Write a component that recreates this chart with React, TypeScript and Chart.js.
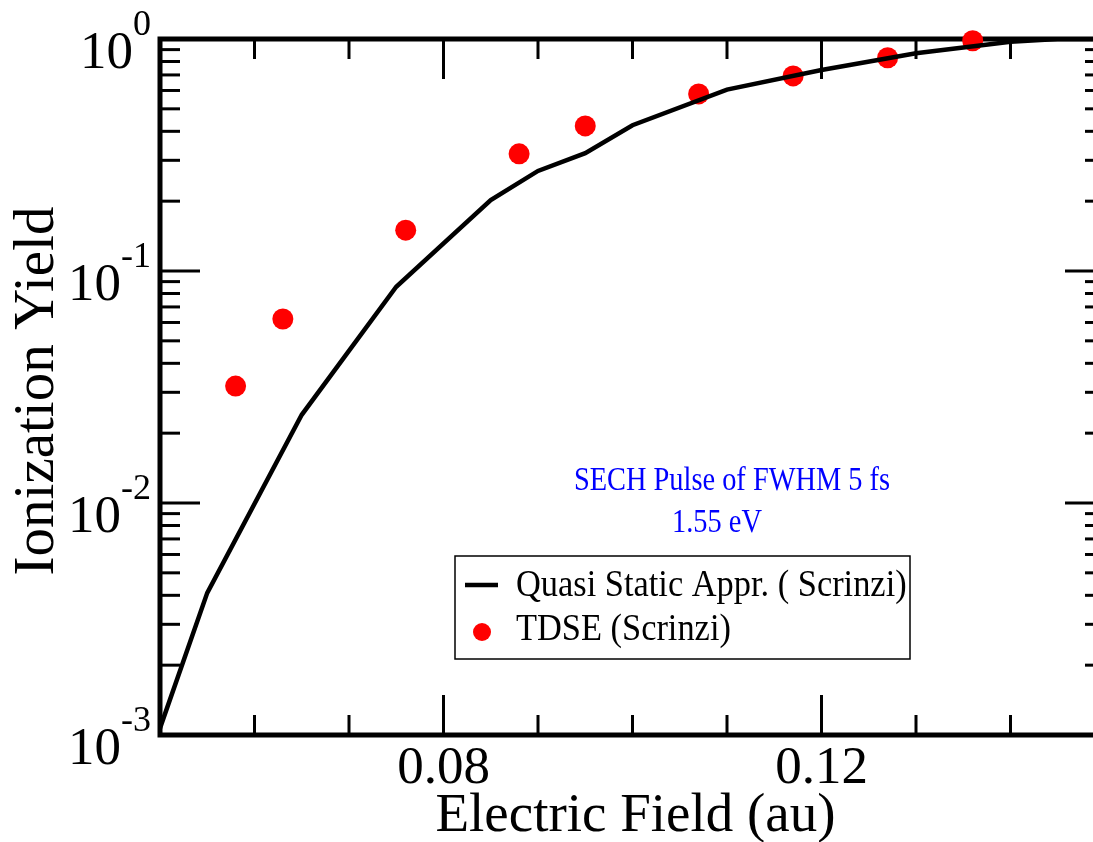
import React, { useEffect, useRef } from "react";
import { Chart, registerables } from "chart.js";

Chart.register(...registerables);

// Quasi static approximation (line)
const quasiX = [0.05, 0.055, 0.065, 0.075, 0.085, 0.09, 0.095, 0.1, 0.11, 0.12, 0.13, 0.14, 0.145, 0.15];
const quasiY = [0.00107, 0.0041, 0.024, 0.0855, 0.202, 0.27, 0.322, 0.425, 0.605, 0.735, 0.868, 0.974, 1.0, 1.0];

// TDSE (points)
const tdseX = [0.058, 0.063, 0.076, 0.088, 0.095, 0.107, 0.117, 0.127, 0.136];
const tdseY = [0.0319, 0.0621, 0.15, 0.32, 0.422, 0.58, 0.693, 0.83, 0.983];

// Axes
const xMin = 0.05;
const xMax = 0.15;
const yMin = 0.001;
const yMax = 1;
const xMajorTicks = [0.08, 0.12];
const xTickLabels = ["0.08", "0.12"];
const xMinorTicks = [0.06, 0.07, 0.09, 0.1, 0.11, 0.13, 0.14];
const yMajorTicks = [0.001, 0.01, 0.1, 1];
const yTickExponents = ["-3", "-2", "-1", "0"];
const yMinorMultipliers = [2, 3, 4, 5, 6, 7, 8, 9];

const xTitle = "Electric Field (au)";
const yTitle = "Ionization Yield";
const legendLabels = ["Quasi Static Appr. ( Scrinzi)", "TDSE (Scrinzi)"];
const noteLines = ["SECH Pulse of FWHM 5 fs", "1.55 eV"];

const SERIF = '"Liberation Serif", "Times New Roman", serif';

function drawScaledText(ctx: CanvasRenderingContext2D, text: string, x: number, y: number, align: "left" | "center", sx: number) {
  ctx.save();
  ctx.translate(x, y);
  ctx.scale(sx, 1);
  ctx.textAlign = align;
  ctx.textBaseline = "alphabetic";
  ctx.fillText(text, 0, 0);
  ctx.restore();
}

const framePlugin = {
  id: "frameTicks",
  beforeDatasetsDraw(chart: any) {
    const { ctx, chartArea: a, scales } = chart;
    const xs = scales.x;
    const ys = scales.y;
    ctx.save();
    ctx.strokeStyle = "#000";
    ctx.lineCap = "butt";
    ctx.lineWidth = 3;
    const seg = (x1: number, y1: number, x2: number, y2: number) => {
      ctx.beginPath();
      ctx.moveTo(x1, y1);
      ctx.lineTo(x2, y2);
      ctx.stroke();
    };
    xMinorTicks.forEach((v) => {
      const p = xs.getPixelForValue(v);
      seg(p, a.bottom, p, a.bottom - 20);
      seg(p, a.top, p, a.top + 20);
    });
    xMajorTicks.forEach((v) => {
      const p = xs.getPixelForValue(v);
      seg(p, a.bottom, p, a.bottom - 40);
      seg(p, a.top, p, a.top + 40);
    });
    yMajorTicks.forEach((v) => {
      const p = ys.getPixelForValue(v);
      seg(a.left, p, a.left + 40, p);
      seg(a.right, p, a.right - 40, p);
      if (v < yMax) {
        yMinorMultipliers.forEach((m) => {
          const q = ys.getPixelForValue(v * m);
          seg(a.left, q, a.left + 20, q);
          seg(a.right, q, a.right - 20, q);
        });
      }
    });
    ctx.lineWidth = 5;
    ctx.strokeRect(a.left, a.top, a.right - a.left, a.bottom - a.top);

    // tick labels
    ctx.fillStyle = "#000";
    ctx.textBaseline = "alphabetic";
    ctx.font = `53px ${SERIF}`;
    ctx.textAlign = "center";
    xMajorTicks.forEach((v, i) => {
      ctx.fillText(xTickLabels[i], xs.getPixelForValue(v), a.bottom + 48);
    });
    yMajorTicks.forEach((v, i) => {
      const p = ys.getPixelForValue(v);
      ctx.font = `36px ${SERIF}`;
      const sw = ctx.measureText(yTickExponents[i]).width;
      const sx = a.left - 9 - sw;
      ctx.textAlign = "left";
      ctx.fillText(yTickExponents[i], sx, p - 4);
      ctx.font = `53px ${SERIF}`;
      ctx.textAlign = "right";
      ctx.fillText("10", sx, p + 29);
    });

    // axis titles
    ctx.font = `55px ${SERIF}`;
    ctx.textAlign = "center";
    ctx.fillText(xTitle, (a.left + a.right) / 2 + 3, 831);
    ctx.save();
    ctx.translate(53, 391);
    ctx.rotate(-Math.PI / 2);
    ctx.font = `57px ${SERIF}`;
    ctx.fillText(yTitle, 0, 0);
    ctx.restore();
    ctx.restore();
  },
  afterDraw(chart: any) {
    const { ctx } = chart;
    ctx.save();
    // annotation
    ctx.fillStyle = "#0000ff";
    ctx.font = `33px ${SERIF}`;
    drawScaledText(ctx, noteLines[0], 732, 490, "center", 0.86);
    drawScaledText(ctx, noteLines[1], 717, 532, "center", 0.86);

    // legend
    ctx.strokeStyle = "#000";
    ctx.lineWidth = 1.5;
    ctx.strokeRect(455, 556, 455, 103);
    ctx.lineWidth = 4.5;
    ctx.beginPath();
    ctx.moveTo(465, 585);
    ctx.lineTo(498, 585);
    ctx.stroke();
    ctx.fillStyle = "#ff0000";
    ctx.beginPath();
    ctx.arc(482, 632, 9, 0, Math.PI * 2);
    ctx.fill();
    ctx.fillStyle = "#000";
    ctx.font = `38px ${SERIF}`;
    drawScaledText(ctx, legendLabels[0], 516, 596, "left", 0.905);
    drawScaledText(ctx, legendLabels[1], 516, 640, "left", 0.905);
    ctx.restore();
  },
};

export default function App() {
  const canvasRef = useRef<HTMLCanvasElement | null>(null);

  useEffect(() => {
    const canvas = canvasRef.current;
    if (!canvas) return;
    const chart = new Chart(canvas, {
      type: "scatter",
      data: {
        datasets: [
          {
            label: legendLabels[0],
            data: quasiX.map((x, i) => ({ x, y: quasiY[i] })),
            showLine: true,
            borderColor: "#000",
            borderWidth: 4.5,
            pointRadius: 0,
            fill: false,
            tension: 0,
          },
          {
            label: legendLabels[1],
            data: tdseX.map((x, i) => ({ x, y: tdseY[i] })),
            showLine: false,
            backgroundColor: "#ff0000",
            borderWidth: 0,
            pointRadius: 10.5,
            clip: false,
          },
        ],
      },
      options: {
        animation: false,
        responsive: false,
        devicePixelRatio: 1,
        layout: { padding: { left: 160, top: 39, right: 15, bottom: 107 } },
        plugins: { legend: { display: false }, tooltip: { enabled: false }, title: { display: false } },
        scales: {
          x: { type: "linear", min: xMin, max: xMax, display: false },
          y: { type: "logarithmic", min: yMin, max: yMax, display: false },
        },
        events: [],
      },
      plugins: [framePlugin],
    } as any);
    return () => chart.destroy();
  }, []);

  return (
    <div style={{ position: "absolute", left: 0, top: 0, width: 1093, height: 842, overflow: "hidden", background: "#fff" }}>
      <canvas ref={canvasRef} width={1120} height={842} style={{ display: "block" }} />
    </div>
  );
}
